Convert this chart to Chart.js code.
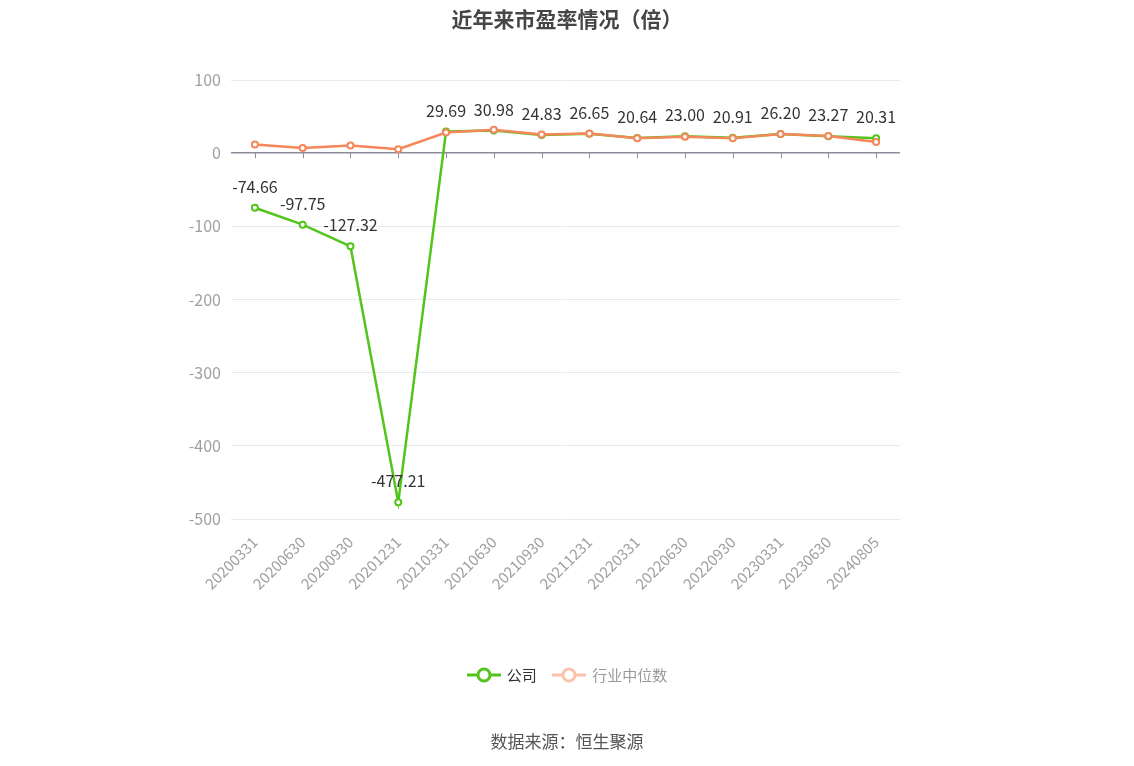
<!DOCTYPE html>
<html>
<head>
<meta charset="utf-8">
<script src="https://cdn.jsdelivr.net/npm/chart.js@4.4.1/dist/chart.umd.min.js"></script>
<style>
    body { margin: 0; background: #fff; font-family: "Noto Sans CJK SC", "Noto Sans", sans-serif; }
    #wrap { position: relative; width: 1134px; height: 766px; }
    #pe-chart { position: absolute; left: 0; top: 0; }
    .title { position: absolute; top: 3px; left: 0; width: 1134px; text-align: center; font-size: 21px; font-weight: bold; color: #464646; }
    .legend { position: absolute; top: 664px; left: 0; width: 1134px; text-align: center; font-size: 15px; }
    .legend span { display: inline-flex; align-items: center; margin: 0 6px; }
    .legend svg { margin-right: 6px; }
    .source { position: absolute; top: 728px; left: 0; width: 1134px; text-align: center; font-size: 17px; color: #555; }
</style>
</head>
<body>
<div id="wrap">
    <canvas id="pe-chart" width="1134" height="766"></canvas>
    <div class="title">近年来市盈率情况（倍）</div>
    <div class="legend">
        <span style="color:#333">
            <svg width="34" height="16"><line x1="0" y1="8" x2="34" y2="8" stroke="#52c41a" stroke-width="3"/><circle cx="17" cy="8" r="6" fill="#fff" stroke="#52c41a" stroke-width="3"/></svg>公司
        </span>
        <span style="color:#999">
            <svg width="34" height="16"><line x1="0" y1="8" x2="34" y2="8" stroke="#fbc2ab" stroke-width="3"/><circle cx="17" cy="8" r="6" fill="#fff" stroke="#fbc2ab" stroke-width="3"/></svg>行业中位数
        </span>
    </div>
    <div class="source">数据来源：恒生聚源</div>
</div>
<script>
const dates = ['20200331', '20200630', '20200930', '20201231', '20210331', '20210630', '20210930',
    '20211231', '20220331', '20220630', '20220930', '20230331', '20230630', '20240805'];
const companyPE = [-74.66, -97.75, -127.32, -477.21, 29.69, 30.98, 24.83, 26.65, 20.64, 23.00, 20.91, 26.20, 23.27, 20.31];
const industryPE = [11.7, 7.2, 10.4, 5.4, 28.2, 32.0, 25.5, 27.0, 20.5, 22.4, 20.5, 26.3, 23.6, 15.4];
const yTicks = [100, 0, -100, -200, -300, -400, -500];

const GREEN = '#52c41a';
const ORANGE = '#f5875a';
const FONT = '"Noto Sans CJK SC", "Noto Sans", sans-serif';

// zero axis line ticks + value labels for the company series
const extrasPlugin = {
    id: 'extras',
    beforeDatasetsDraw(chart) {
        const { ctx, scales: { x, y } } = chart;
        const y0 = y.getPixelForValue(0);
        ctx.save();
        ctx.strokeStyle = '#8a8d99';
        ctx.lineWidth = 1;
        dates.forEach((d, i) => {
            const px = Math.round(x.getPixelForValue(i)) + 0.5;
            ctx.beginPath();
            ctx.moveTo(px, y0);
            ctx.lineTo(px, y0 + 5);
            ctx.stroke();
        });
        ctx.restore();
    },
    afterDatasetsDraw(chart) {
        const { ctx, scales: { x, y } } = chart;
        ctx.save();
        ctx.font = '16px ' + FONT;
        ctx.fillStyle = '#333';
        ctx.textAlign = 'center';
        ctx.textBaseline = 'middle';
        companyPE.forEach((v, i) => {
            const px = x.getPixelForValue(i);
            const py = y.getPixelForValue(v);
            ctx.fillText(v.toFixed(2), px, py - 21);
        });
        ctx.restore();
    }
};

new Chart(document.getElementById('pe-chart'), {
    type: 'line',
    data: {
        labels: dates,
        datasets: [
            {
                label: '公司',
                data: companyPE,
                borderColor: GREEN,
                backgroundColor: '#fff',
                borderWidth: 2.5,
                pointRadius: 3,
                pointBorderWidth: 2,
                pointBackgroundColor: '#fff',
                pointBorderColor: GREEN,
                tension: 0,
                order: 1
            },
            {
                label: '行业中位数',
                data: industryPE,
                borderColor: ORANGE,
                backgroundColor: '#fff',
                borderWidth: 2.5,
                pointRadius: 3,
                pointBorderWidth: 2,
                pointBackgroundColor: '#fff',
                pointBorderColor: ORANGE,
                tension: 0,
                order: 0
            }
        ]
    },
    options: {
        responsive: false,
        animation: false,
        layout: { padding: { top: 80, right: 234, left: 0, bottom: 0 } },
        plugins: { legend: { display: false }, tooltip: { enabled: false } },
        scales: {
            x: {
                offset: true,
                grid: { display: false },
                border: { display: false },
                ticks: {
                    color: '#a0a0a0',
                    font: { size: 15, family: FONT },
                    minRotation: 45,
                    maxRotation: 45,
                    padding: 6
                },
                afterFit: s => { s.height = 247; }
            },
            y: {
                min: -500,
                max: 100,
                afterBuildTicks: s => { s.ticks = yTicks.map(v => ({ value: v })); },
                border: { display: false },
                grid: {
                    drawTicks: false,
                    color: c => c.tick && c.tick.value === 0 ? '#8a8d99' : '#e6e9f0',
                    lineWidth: c => c.tick && c.tick.value === 0 ? 1.5 : 1
                },
                ticks: {
                    color: '#a0a0a0',
                    font: { size: 16, family: FONT },
                    padding: 10
                },
                afterFit: s => { s.width = 231; }
            }
        }
    },
    plugins: [extrasPlugin]
});
</script>
</body>
</html>
